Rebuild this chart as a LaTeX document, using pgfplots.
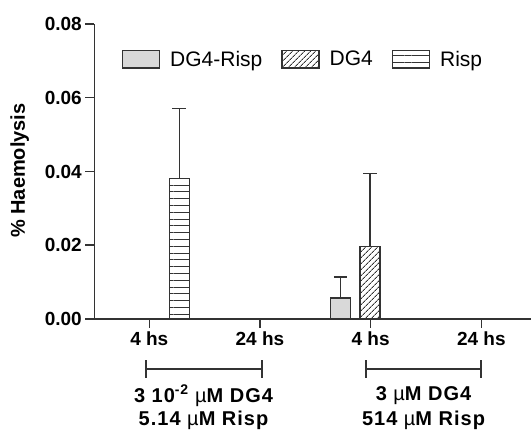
\documentclass[border=0pt]{standalone}
\usepackage{pgfplots}
\pgfplotsset{compat=1.18}
\usetikzlibrary{patterns.meta}
\usepackage{fontspec}
\setmainfont{Liberation Sans}
\definecolor{axc}{HTML}{333333}
\begin{document}
\begin{tikzpicture}
\begin{axis}[name=ax, scale only axis, width=436.7pt, height=295pt,
 xmin=-0.497, xmax=3.449, ymin=0, ymax=0.08,
 axis lines=left, axis line style={-, line width=1.5pt, axc},
 xtick={0,1,2,3}, xticklabels={4 hs,24 hs,4 hs,24 hs},
 ytick={0,0.02,0.04,0.06,0.08},
 /pgf/number format/assume math mode=true,
 yticklabel style={/pgf/number format/.cd, fixed, fixed zerofill, precision=2},
 scaled y ticks=false,
 tick style={line width=1.5pt, axc},
 tick align=outside, major tick length=9pt,
 ticklabel style={font=\bfseries\fontsize{19}{21}\selectfont},
 ylabel={\% Haemolysis},
 ylabel style={font=\bfseries\fontsize{20}{22}\selectfont, at={(axis description cs:-0.171,0.503)}, anchor=center},
 clip=false,
 legend style={draw=none, fill=none, legend columns=3, at={(axis description cs:0.0627,0.88)}, anchor=west, inner xsep=0pt, font=\fontsize{21}{23}\selectfont,
   /tikz/every odd column/.append style={column sep=8pt},
   /tikz/every even column/.append style={column sep=17pt}},
 legend cell align=left,
 legend image code/.code={\draw[#1] (0pt,-8.7pt) rectangle (37pt,8.7pt);},
]
\addplot[ybar, bar width=20pt, bar shift=0pt, fill=gray!30, draw=axc, line width=1.3pt,
  error bars/.cd, y dir=plus, y explicit, error bar style={line width=1.2pt, axc},
  error mark options={rotate=90, mark size=6.5pt, line width=1.2pt, axc}]
  coordinates {(1.726,0.0057) +- (0,0.0057)};
\addlegendentry{DG4-Risp}
\addplot[ybar, bar width=20pt, bar shift=0pt, pattern={Lines[angle=45, distance=4pt, line width=0.9pt]}, pattern color=axc, draw=axc, line width=1.3pt,
  error bars/.cd, y dir=plus, y explicit, error bar style={line width=1.2pt, axc},
  error mark options={rotate=90, mark size=7pt, line width=1.2pt, axc}]
  coordinates {(1.995,0.0197) +- (0,0.0198)};
\addlegendentry{DG4}
\addplot[ybar, bar width=20pt, bar shift=0pt, pattern={Lines[angle=0, distance=6.8pt, line width=1pt]}, pattern color=axc, draw=axc, line width=1.3pt,
  error bars/.cd, y dir=plus, y explicit, error bar style={line width=1.2pt, axc},
  error mark options={rotate=90, mark size=7pt, line width=1.2pt, axc}]
  coordinates {(0.27,0.0381) +- (0,0.0190)};
\addlegendentry{Risp}
% group brackets
\draw[line width=1.8pt, axc] (axis cs:-0.033,-0.01355) -- (axis cs:1.016,-0.01355);
\draw[line width=1.8pt, axc] (axis cs:-0.033,-0.0112) -- (axis cs:-0.033,-0.0159);
\draw[line width=1.8pt, axc] (axis cs:1.016,-0.0112) -- (axis cs:1.016,-0.0159);
\draw[line width=1.8pt, axc] (axis cs:1.956,-0.01355) -- (axis cs:3.0,-0.01355);
\draw[line width=1.8pt, axc] (axis cs:1.956,-0.0112) -- (axis cs:1.956,-0.0159);
\draw[line width=1.8pt, axc] (axis cs:3.0,-0.0112) -- (axis cs:3.0,-0.0159);
\node[font=\bfseries\fontsize{20}{22}\selectfont\addfontfeature{LetterSpace=5}] at (axis cs:0.49,-0.0208) {3 10\textsuperscript{-2} {\mdseries µ}M DG4};
\node[font=\bfseries\fontsize{20}{22}\selectfont\addfontfeature{LetterSpace=5}] at (axis cs:0.49,-0.0275) {5.14 {\mdseries µ}M Risp};
\node[font=\bfseries\fontsize{20}{22}\selectfont\addfontfeature{LetterSpace=5}] at (axis cs:2.478,-0.0208) {3 {\mdseries µ}M DG4};
\node[font=\bfseries\fontsize{20}{22}\selectfont\addfontfeature{LetterSpace=5}] at (axis cs:2.478,-0.0275) {514 {\mdseries µ}M Risp};
\end{axis}
\pgfresetboundingbox
\path (ax.south west) ++(-94.3pt,-111pt) rectangle ++(531pt,430pt);
\end{tikzpicture}
\end{document}
